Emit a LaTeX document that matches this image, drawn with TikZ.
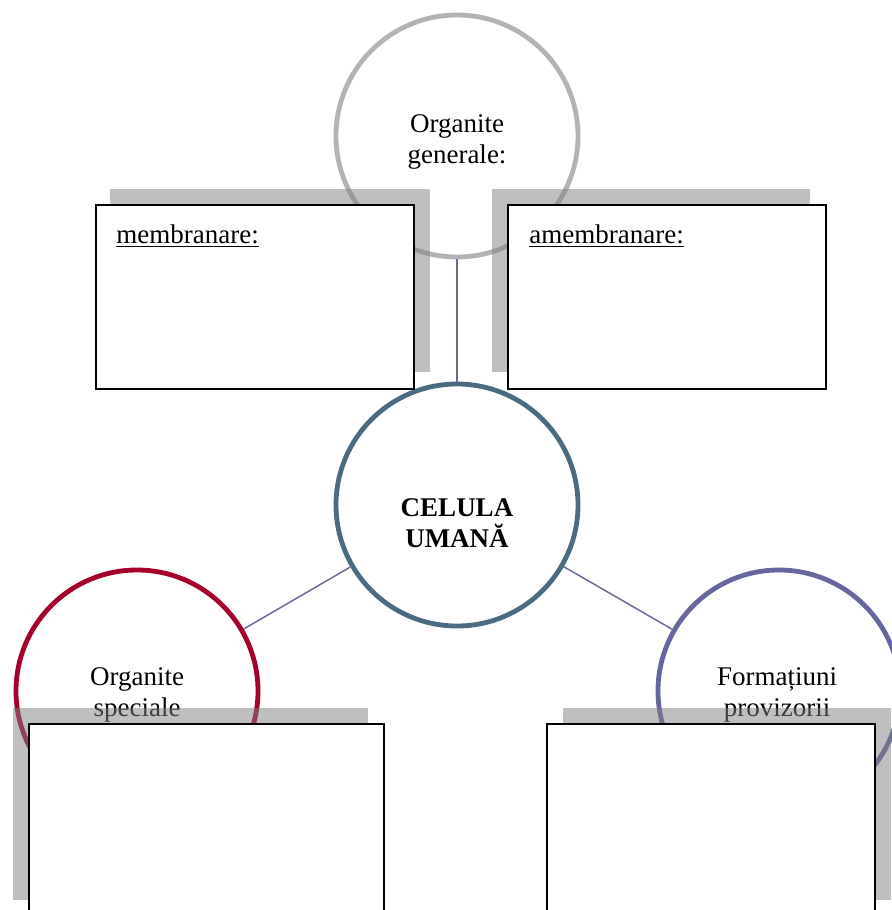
\documentclass[tikz,border=0pt]{standalone}
\usepackage{fontspec}
\setmainfont{Liberation Serif}
\definecolor{grigio}{HTML}{B3B3B3}
\definecolor{ardezie}{HTML}{4B6B80}
\definecolor{visiniu}{HTML}{A5002A}
\definecolor{lila}{HTML}{6767A0}
\definecolor{linie}{HTML}{6B6B9B}

\begin{document}
\begin{tikzpicture}[x=0.5pt,y=-0.5pt,
        inel/.style={circle,line width=2.4pt,minimum size=121pt,inner sep=0pt},
        eticheta/.style={font=\fontsize{13.5}{15.5}\selectfont,align=center},
        legatura/.style={draw=linie,line width=0.75pt},
        umbra/.style={fill=black!50,fill opacity=0.5},
        caseta/.style={draw=black,fill=white,line width=1pt,inner sep=0pt}]
                \useasboundingbox (0,0) rectangle (892,910);
                \clip (0,0) rectangle (892,910);
                \node[inel,draw=grigio] (generale) at (457,136) {};
                \node[inel,draw=ardezie] (celula) at (457,505) {};
                \node[inel,draw=visiniu] (speciale) at (137,691) {};
                \node[inel,draw=lila] (provizorii) at (779,691) {};
                \node[eticheta] (tgenerale) at (457,142) {Organite\\generale:};
                \node[eticheta,font=\fontsize{13.5}{15.5}\selectfont\bfseries] (tcelula) at (457,523) {CELULA\\UMANĂ};
                \node[eticheta] (tspeciale) at (137,695) {Organite\\speciale};
                \node[eticheta] (tprovizorii) at (777,695) {Formațiuni\\provizorii};
                \draw[legatura] (generale) -- (celula);
                \draw[legatura] (celula) -- (speciale);
                \draw[legatura] (celula) -- (provizorii);
                \fill[umbra] (110,189) rectangle (430,372);
                \fill[umbra] (492,189) rectangle (810,372);
                \fill[umbra] (13,708) rectangle (368,900);
                \fill[umbra] (563,708) rectangle (891,900);
                \node[caseta,minimum width=159pt,minimum height=92pt] (cmembranare) at (255,297) {};
                \node[caseta,minimum width=159pt,minimum height=92pt] (camembranare) at (667,297) {};
                \node[caseta,minimum width=177.5pt,minimum height=138pt] (cspeciale) at (206.5,862) {};
                \node[caseta,minimum width=164pt,minimum height=138pt] (cprovizorii) at (711,862) {};
                \node[eticheta,anchor=base west,inner sep=0pt] (tmembranare) at (116,243) {\underline{membranare:}};
                \node[eticheta,anchor=base west,inner sep=0pt] (tamembranare) at (529,243) {\underline{amembranare:}};
            \end{tikzpicture}
\end{document}
